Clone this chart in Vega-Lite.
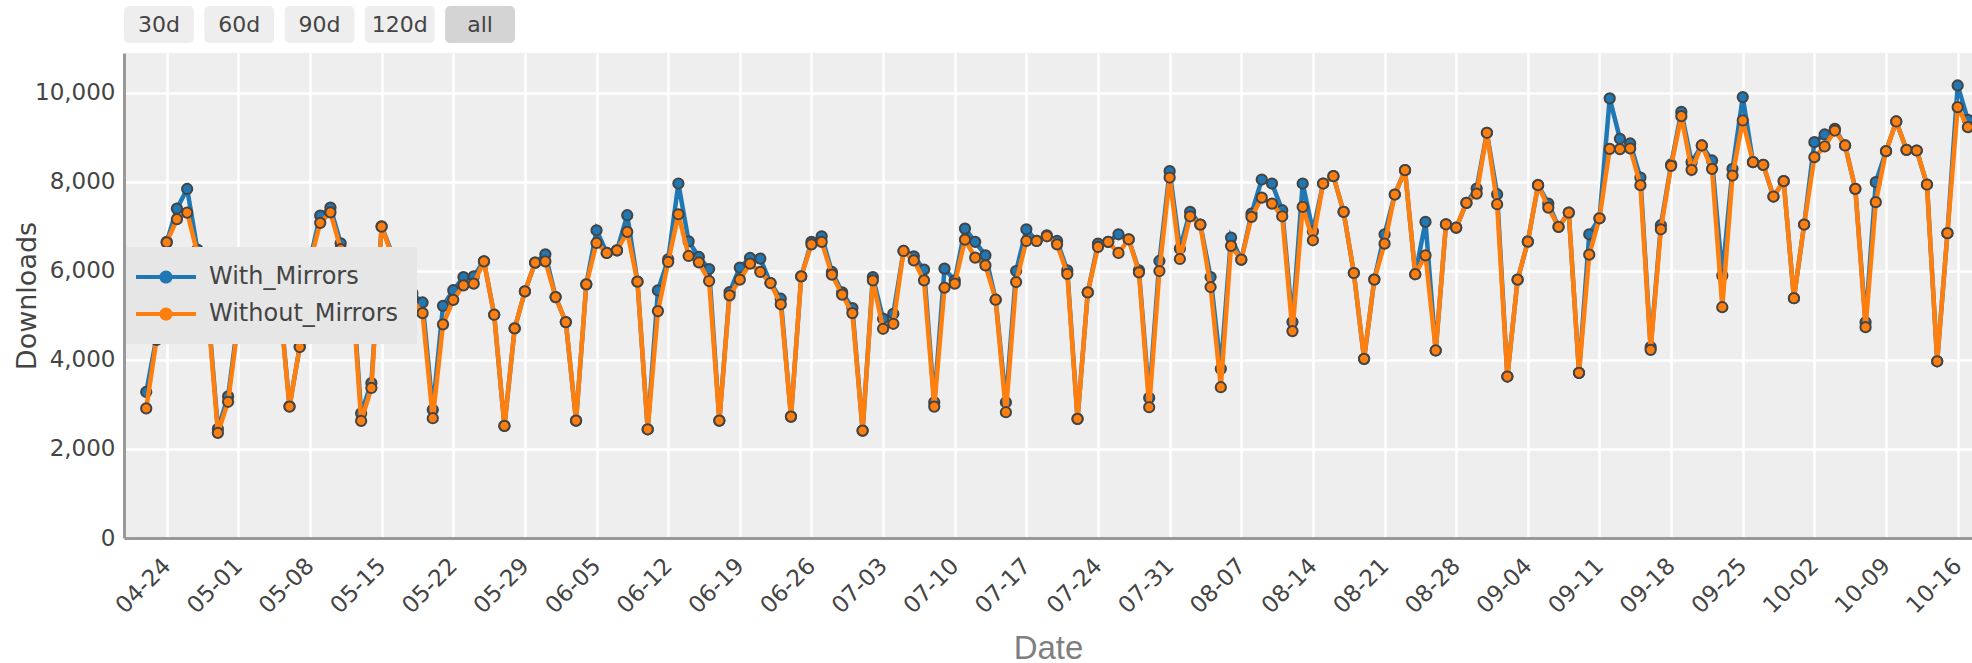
{
"$schema": "https://vega.github.io/schema/vega-lite/v6.json",
"padding": {"left": 13, "top": 6, "right": 0, "bottom": 0},
"autosize": {"type": "pad"},
"background": "white",
"bounds": "flush",
"spacing": 10,
"config": {"view": {"stroke": null}, "font": "DejaVu Sans"},
"vconcat": [
{
"width": 391, "height": 37,
"data": {"values": [{"label": "30d"}, {"label": "60d"}, {"label": "90d"}, {"label": "120d"}, {"label": "all"}]},
"encoding": {"x": {"field": "label", "type": "nominal", "sort": null, "axis": null, "scale": {"paddingInner": 0.13, "paddingOuter": 0}}},
"layer": [
{"mark": {"type": "rect", "cornerRadius": 5}, "encoding": {"color": {"condition": {"test": "datum.label === 'all'", "value": "#d4d4d4"}, "value": "#eeeeee"}}},
{"mark": {"type": "text", "font": "DejaVu Sans", "fontSize": 22, "color": "#444", "baseline": "middle"}, "encoding": {"text": {"field": "label"}}}
]
},
{
"width": 1848, "height": 485,
"view": {"fill": "#eeeeee", "stroke": null},
"data": {"values": [
{"date":"2018-04-22","With_Mirrors":3280,"Without_Mirrors":2910},
{"date":"2018-04-23","With_Mirrors":4500,"Without_Mirrors":4450},
{"date":"2018-04-24","With_Mirrors":6650,"Without_Mirrors":6640},
{"date":"2018-04-25","With_Mirrors":7400,"Without_Mirrors":7160},
{"date":"2018-04-26","With_Mirrors":7840,"Without_Mirrors":7310},
{"date":"2018-04-27","With_Mirrors":6480,"Without_Mirrors":6390},
{"date":"2018-04-28","With_Mirrors":5250,"Without_Mirrors":5180},
{"date":"2018-04-29","With_Mirrors":2450,"Without_Mirrors":2360},
{"date":"2018-04-30","With_Mirrors":3180,"Without_Mirrors":3060},
{"date":"2018-05-01","With_Mirrors":4950,"Without_Mirrors":4850},
{"date":"2018-05-02","With_Mirrors":6150,"Without_Mirrors":6050},
{"date":"2018-05-03","With_Mirrors":6350,"Without_Mirrors":6250},
{"date":"2018-05-04","With_Mirrors":6100,"Without_Mirrors":6000},
{"date":"2018-05-05","With_Mirrors":5450,"Without_Mirrors":5380},
{"date":"2018-05-06","With_Mirrors":2960,"Without_Mirrors":2950},
{"date":"2018-05-07","With_Mirrors":4300,"Without_Mirrors":4290},
{"date":"2018-05-08","With_Mirrors":6250,"Without_Mirrors":6180},
{"date":"2018-05-09","With_Mirrors":7240,"Without_Mirrors":7080},
{"date":"2018-05-10","With_Mirrors":7420,"Without_Mirrors":7315},
{"date":"2018-05-11","With_Mirrors":6620,"Without_Mirrors":6490},
{"date":"2018-05-12","With_Mirrors":6100,"Without_Mirrors":6000},
{"date":"2018-05-13","With_Mirrors":2800,"Without_Mirrors":2630},
{"date":"2018-05-14","With_Mirrors":3480,"Without_Mirrors":3370},
{"date":"2018-05-15","With_Mirrors":7000,"Without_Mirrors":6995},
{"date":"2018-05-16","With_Mirrors":6400,"Without_Mirrors":6350},
{"date":"2018-05-17","With_Mirrors":6050,"Without_Mirrors":5950},
{"date":"2018-05-18","With_Mirrors":5500,"Without_Mirrors":5350},
{"date":"2018-05-19","With_Mirrors":5290,"Without_Mirrors":5050},
{"date":"2018-05-20","With_Mirrors":2880,"Without_Mirrors":2690},
{"date":"2018-05-21","With_Mirrors":5215,"Without_Mirrors":4800},
{"date":"2018-05-22","With_Mirrors":5565,"Without_Mirrors":5350},
{"date":"2018-05-23","With_Mirrors":5860,"Without_Mirrors":5675},
{"date":"2018-05-24","With_Mirrors":5877,"Without_Mirrors":5712},
{"date":"2018-05-25","With_Mirrors":6215,"Without_Mirrors":6215},
{"date":"2018-05-26","With_Mirrors":5015,"Without_Mirrors":5015},
{"date":"2018-05-27","With_Mirrors":2517,"Without_Mirrors":2517},
{"date":"2018-05-28","With_Mirrors":4707,"Without_Mirrors":4707},
{"date":"2018-05-29","With_Mirrors":5540,"Without_Mirrors":5540},
{"date":"2018-05-30","With_Mirrors":6185,"Without_Mirrors":6185},
{"date":"2018-05-31","With_Mirrors":6372,"Without_Mirrors":6215},
{"date":"2018-06-01","With_Mirrors":5412,"Without_Mirrors":5412},
{"date":"2018-06-02","With_Mirrors":4850,"Without_Mirrors":4850},
{"date":"2018-06-03","With_Mirrors":2637,"Without_Mirrors":2637},
{"date":"2018-06-04","With_Mirrors":5697,"Without_Mirrors":5697},
{"date":"2018-06-05","With_Mirrors":6912,"Without_Mirrors":6627},
{"date":"2018-06-06","With_Mirrors":6402,"Without_Mirrors":6402},
{"date":"2018-06-07","With_Mirrors":6462,"Without_Mirrors":6462},
{"date":"2018-06-08","With_Mirrors":7250,"Without_Mirrors":6875},
{"date":"2018-06-09","With_Mirrors":5757,"Without_Mirrors":5757},
{"date":"2018-06-10","With_Mirrors":2442,"Without_Mirrors":2442},
{"date":"2018-06-11","With_Mirrors":5562,"Without_Mirrors":5097},
{"date":"2018-06-12","With_Mirrors":6260,"Without_Mirrors":6200},
{"date":"2018-06-13","With_Mirrors":7962,"Without_Mirrors":7272},
{"date":"2018-06-14","With_Mirrors":6665,"Without_Mirrors":6335},
{"date":"2018-06-15","With_Mirrors":6312,"Without_Mirrors":6192},
{"date":"2018-06-16","With_Mirrors":6042,"Without_Mirrors":5772},
{"date":"2018-06-17","With_Mirrors":2637,"Without_Mirrors":2637},
{"date":"2018-06-18","With_Mirrors":5525,"Without_Mirrors":5450},
{"date":"2018-06-19","With_Mirrors":6072,"Without_Mirrors":5802},
{"date":"2018-06-20","With_Mirrors":6290,"Without_Mirrors":6162},
{"date":"2018-06-21","With_Mirrors":6275,"Without_Mirrors":5975},
{"date":"2018-06-22","With_Mirrors":5727,"Without_Mirrors":5727},
{"date":"2018-06-23","With_Mirrors":5375,"Without_Mirrors":5250},
{"date":"2018-06-24","With_Mirrors":2727,"Without_Mirrors":2727},
{"date":"2018-06-25","With_Mirrors":5877,"Without_Mirrors":5877},
{"date":"2018-06-26","With_Mirrors":6650,"Without_Mirrors":6597},
{"date":"2018-06-27","With_Mirrors":6777,"Without_Mirrors":6650},
{"date":"2018-06-28","With_Mirrors":5975,"Without_Mirrors":5915},
{"date":"2018-06-29","With_Mirrors":5517,"Without_Mirrors":5465},
{"date":"2018-06-30","With_Mirrors":5165,"Without_Mirrors":5052},
{"date":"2018-07-01","With_Mirrors":2412,"Without_Mirrors":2412},
{"date":"2018-07-02","With_Mirrors":5862,"Without_Mirrors":5787},
{"date":"2018-07-03","With_Mirrors":4925,"Without_Mirrors":4700},
{"date":"2018-07-04","With_Mirrors":5037,"Without_Mirrors":4812},
{"date":"2018-07-05","With_Mirrors":6447,"Without_Mirrors":6447},
{"date":"2018-07-06","With_Mirrors":6327,"Without_Mirrors":6237},
{"date":"2018-07-07","With_Mirrors":6027,"Without_Mirrors":5787},
{"date":"2018-07-08","With_Mirrors":3050,"Without_Mirrors":2952},
{"date":"2018-07-09","With_Mirrors":6050,"Without_Mirrors":5622},
{"date":"2018-07-10","With_Mirrors":5787,"Without_Mirrors":5712},
{"date":"2018-07-11","With_Mirrors":6950,"Without_Mirrors":6702},
{"date":"2018-07-12","With_Mirrors":6650,"Without_Mirrors":6297},
{"date":"2018-07-13","With_Mirrors":6350,"Without_Mirrors":6125},
{"date":"2018-07-14","With_Mirrors":5352,"Without_Mirrors":5352},
{"date":"2018-07-15","With_Mirrors":3050,"Without_Mirrors":2825},
{"date":"2018-07-16","With_Mirrors":5997,"Without_Mirrors":5750},
{"date":"2018-07-17","With_Mirrors":6935,"Without_Mirrors":6672},
{"date":"2018-07-18","With_Mirrors":6672,"Without_Mirrors":6672},
{"date":"2018-07-19","With_Mirrors":6800,"Without_Mirrors":6777},
{"date":"2018-07-20","With_Mirrors":6672,"Without_Mirrors":6597},
{"date":"2018-07-21","With_Mirrors":6010,"Without_Mirrors":5930},
{"date":"2018-07-22","With_Mirrors":2675,"Without_Mirrors":2675},
{"date":"2018-07-23","With_Mirrors":5517,"Without_Mirrors":5517},
{"date":"2018-07-24","With_Mirrors":6612,"Without_Mirrors":6537},
{"date":"2018-07-25","With_Mirrors":6650,"Without_Mirrors":6650},
{"date":"2018-07-26","With_Mirrors":6822,"Without_Mirrors":6402},
{"date":"2018-07-27","With_Mirrors":6710,"Without_Mirrors":6710},
{"date":"2018-07-28","With_Mirrors":6012,"Without_Mirrors":5967},
{"date":"2018-07-29","With_Mirrors":3147,"Without_Mirrors":2937},
{"date":"2018-07-30","With_Mirrors":6222,"Without_Mirrors":5997},
{"date":"2018-07-31","With_Mirrors":8240,"Without_Mirrors":8097},
{"date":"2018-08-01","With_Mirrors":6500,"Without_Mirrors":6267},
{"date":"2018-08-02","With_Mirrors":7325,"Without_Mirrors":7227},
{"date":"2018-08-03","With_Mirrors":7040,"Without_Mirrors":7040},
{"date":"2018-08-04","With_Mirrors":5862,"Without_Mirrors":5637},
{"date":"2018-08-05","With_Mirrors":3800,"Without_Mirrors":3387},
{"date":"2018-08-06","With_Mirrors":6747,"Without_Mirrors":6560},
{"date":"2018-08-07","With_Mirrors":6252,"Without_Mirrors":6252},
{"date":"2018-08-08","With_Mirrors":7287,"Without_Mirrors":7212},
{"date":"2018-08-09","With_Mirrors":8052,"Without_Mirrors":7647},
{"date":"2018-08-10","With_Mirrors":7962,"Without_Mirrors":7512},
{"date":"2018-08-11","With_Mirrors":7362,"Without_Mirrors":7227},
{"date":"2018-08-12","With_Mirrors":4850,"Without_Mirrors":4647},
{"date":"2018-08-13","With_Mirrors":7962,"Without_Mirrors":7437},
{"date":"2018-08-14","With_Mirrors":6890,"Without_Mirrors":6687},
{"date":"2018-08-15","With_Mirrors":7962,"Without_Mirrors":7962},
{"date":"2018-08-16","With_Mirrors":8127,"Without_Mirrors":8127},
{"date":"2018-08-17","With_Mirrors":7325,"Without_Mirrors":7325},
{"date":"2018-08-18","With_Mirrors":5952,"Without_Mirrors":5952},
{"date":"2018-08-19","With_Mirrors":4025,"Without_Mirrors":4025},
{"date":"2018-08-20","With_Mirrors":5810,"Without_Mirrors":5805},
{"date":"2018-08-21","With_Mirrors":6822,"Without_Mirrors":6612},
{"date":"2018-08-22","With_Mirrors":7715,"Without_Mirrors":7715},
{"date":"2018-08-23","With_Mirrors":8262,"Without_Mirrors":8262},
{"date":"2018-08-24","With_Mirrors":5925,"Without_Mirrors":5925},
{"date":"2018-08-25","With_Mirrors":7100,"Without_Mirrors":6350},
{"date":"2018-08-26","With_Mirrors":4212,"Without_Mirrors":4212},
{"date":"2018-08-27","With_Mirrors":7047,"Without_Mirrors":7047},
{"date":"2018-08-28","With_Mirrors":6972,"Without_Mirrors":6972},
{"date":"2018-08-29","With_Mirrors":7527,"Without_Mirrors":7527},
{"date":"2018-08-30","With_Mirrors":7850,"Without_Mirrors":7737},
{"date":"2018-08-31","With_Mirrors":9102,"Without_Mirrors":9102},
{"date":"2018-09-01","With_Mirrors":7722,"Without_Mirrors":7497},
{"date":"2018-09-02","With_Mirrors":3627,"Without_Mirrors":3627},
{"date":"2018-09-03","With_Mirrors":5802,"Without_Mirrors":5802},
{"date":"2018-09-04","With_Mirrors":6657,"Without_Mirrors":6657},
{"date":"2018-09-05","With_Mirrors":7925,"Without_Mirrors":7925},
{"date":"2018-09-06","With_Mirrors":7512,"Without_Mirrors":7422},
{"date":"2018-09-07","With_Mirrors":6987,"Without_Mirrors":6987},
{"date":"2018-09-08","With_Mirrors":7310,"Without_Mirrors":7310},
{"date":"2018-09-09","With_Mirrors":3710,"Without_Mirrors":3710},
{"date":"2018-09-10","With_Mirrors":6822,"Without_Mirrors":6365},
{"date":"2018-09-11","With_Mirrors":7182,"Without_Mirrors":7182},
{"date":"2018-09-12","With_Mirrors":9875,"Without_Mirrors":8742},
{"date":"2018-09-13","With_Mirrors":8967,"Without_Mirrors":8735},
{"date":"2018-09-14","With_Mirrors":8862,"Without_Mirrors":8750},
{"date":"2018-09-15","With_Mirrors":8097,"Without_Mirrors":7925},
{"date":"2018-09-16","With_Mirrors":4287,"Without_Mirrors":4227},
{"date":"2018-09-17","With_Mirrors":7025,"Without_Mirrors":6935},
{"date":"2018-09-18","With_Mirrors":8390,"Without_Mirrors":8360},
{"date":"2018-09-19","With_Mirrors":9570,"Without_Mirrors":9475},
{"date":"2018-09-20","With_Mirrors":8442,"Without_Mirrors":8270},
{"date":"2018-09-21","With_Mirrors":8817,"Without_Mirrors":8817},
{"date":"2018-09-22","With_Mirrors":8480,"Without_Mirrors":8292},
{"date":"2018-09-23","With_Mirrors":5895,"Without_Mirrors":5184},
{"date":"2018-09-24","With_Mirrors":8292,"Without_Mirrors":8142},
{"date":"2018-09-25","With_Mirrors":9903,"Without_Mirrors":9378},
{"date":"2018-09-26","With_Mirrors":8442,"Without_Mirrors":8442},
{"date":"2018-09-27","With_Mirrors":8382,"Without_Mirrors":8382},
{"date":"2018-09-28","With_Mirrors":7670,"Without_Mirrors":7670},
{"date":"2018-09-29","With_Mirrors":8015,"Without_Mirrors":8015},
{"date":"2018-09-30","With_Mirrors":5386,"Without_Mirrors":5386},
{"date":"2018-10-01","With_Mirrors":7041,"Without_Mirrors":7041},
{"date":"2018-10-02","With_Mirrors":8891,"Without_Mirrors":8554},
{"date":"2018-10-03","With_Mirrors":9064,"Without_Mirrors":8794},
{"date":"2018-10-04","With_Mirrors":9191,"Without_Mirrors":9153},
{"date":"2018-10-05","With_Mirrors":8817,"Without_Mirrors":8817},
{"date":"2018-10-06","With_Mirrors":7843,"Without_Mirrors":7843},
{"date":"2018-10-07","With_Mirrors":4847,"Without_Mirrors":4735},
{"date":"2018-10-08","With_Mirrors":7993,"Without_Mirrors":7543},
{"date":"2018-10-09","With_Mirrors":8689,"Without_Mirrors":8689},
{"date":"2018-10-10","With_Mirrors":9356,"Without_Mirrors":9356},
{"date":"2018-10-11","With_Mirrors":8719,"Without_Mirrors":8719},
{"date":"2018-10-12","With_Mirrors":8704,"Without_Mirrors":8704},
{"date":"2018-10-13","With_Mirrors":7940,"Without_Mirrors":7940},
{"date":"2018-10-14","With_Mirrors":3970,"Without_Mirrors":3970},
{"date":"2018-10-15","With_Mirrors":6847,"Without_Mirrors":6847},
{"date":"2018-10-16","With_Mirrors":10165,"Without_Mirrors":9678},
{"date":"2018-10-17","With_Mirrors":9393,"Without_Mirrors":9229}
]},
"transform": [{"fold": ["With_Mirrors", "Without_Mirrors"], "as": ["series", "downloads"]}],
"encoding": {
"x": {"field": "date", "type": "temporal", "title": "Date",
 "scale": {"type": "utc", "domain": [{"year": 2018, "month": 4, "date": 19, "hours": 19, "minutes": 52, "utc": true}, {"year": 2018, "month": 10, "date": 17, "hours": 9, "minutes": 36, "utc": true}]},
 "axis": {"values": [
 {"year":2018,"month":4,"date":24,"utc":true},{"year":2018,"month":5,"date":1,"utc":true},{"year":2018,"month":5,"date":8,"utc":true},{"year":2018,"month":5,"date":15,"utc":true},{"year":2018,"month":5,"date":22,"utc":true},{"year":2018,"month":5,"date":29,"utc":true},{"year":2018,"month":6,"date":5,"utc":true},{"year":2018,"month":6,"date":12,"utc":true},{"year":2018,"month":6,"date":19,"utc":true},{"year":2018,"month":6,"date":26,"utc":true},{"year":2018,"month":7,"date":3,"utc":true},{"year":2018,"month":7,"date":10,"utc":true},{"year":2018,"month":7,"date":17,"utc":true},{"year":2018,"month":7,"date":24,"utc":true},{"year":2018,"month":7,"date":31,"utc":true},{"year":2018,"month":8,"date":7,"utc":true},{"year":2018,"month":8,"date":14,"utc":true},{"year":2018,"month":8,"date":21,"utc":true},{"year":2018,"month":8,"date":28,"utc":true},{"year":2018,"month":9,"date":4,"utc":true},{"year":2018,"month":9,"date":11,"utc":true},{"year":2018,"month":9,"date":18,"utc":true},{"year":2018,"month":9,"date":25,"utc":true},{"year":2018,"month":10,"date":2,"utc":true},{"year":2018,"month":10,"date":9,"utc":true},{"year":2018,"month":10,"date":16,"utc":true}],
 "format": "%m-%d", "labelAngle": -45, "labelAlign": "right", "labelBaseline": "middle", "labelPadding": 24,
 "labelFont": "DejaVu Sans", "labelFontSize": 23, "labelColor": "#444", "labelOverlap": false, "labelFlush": false, "labelBound": false,
 "ticks": false, "tickSize": 0, "grid": true, "gridColor": "white", "gridWidth": 2.5, "domainColor": "#999", "domainWidth": 3,
 "titleFont": "Liberation Sans", "titleFontSize": 33, "titleFontWeight": "normal", "titleColor": "#7f7f7f", "titlePadding": 15}},
"y": {"field": "downloads", "type": "quantitative", "title": "Downloads",
 "scale": {"domain": [0, 10894], "nice": false},
 "axis": {"values": [0, 2000, 4000, 6000, 8000, 10000], "format": ",.0f", "labelFont": "DejaVu Sans", "labelFontSize": 23, "labelColor": "#444", "labelPadding": 9,
 "ticks": false, "tickSize": 0, "grid": true, "gridColor": "white", "gridWidth": 2.5, "domainColor": "#999", "domainWidth": 3,
 "titleFont": "DejaVu Sans", "titleFontSize": 27, "titleFontWeight": "normal", "titleColor": "#444", "titleBaseline": "alphabetic", "titlePadding": -1}},
"color": {"field": "series", "type": "nominal",
 "scale": {"domain": ["With_Mirrors", "Without_Mirrors"], "range": ["#1f77b4", "#ff7f0e"]},
 "legend": {"orient": "none", "legendX": 2, "legendY": 241, "title": null, "fillColor": "#e6e6e6", "padding": 18,
  "symbolOffset": 10, "labelOffset": 31, "rowPadding": 13, "labelFont": "DejaVu Sans", "labelFontSize": 24, "labelColor": "#444", "labelBaseline": "middle", "labelLimit": 0,
  "symbolType": "M -2.5 -0.17 H 2.5 V 0.17 H -2.5 Z M 0.55 0 A 0.55 0.55 0 1 1 -0.55 0 A 0.55 0.55 0 1 1 0.55 0 Z",
  "symbolSize": 576, "symbolStrokeWidth": 0,
  "encode": {"symbols": {"update": {"fill": {"scale": "color", "field": "value"}, "stroke": {"value": "transparent"}, "opacity": {"value": 1}}}}}}
},
"layer": [
{"transform": [{"filter": "datum.series === 'With_Mirrors'"}], "mark": {"type": "line", "strokeWidth": 4.5}},
{"transform": [{"filter": "datum.series === 'With_Mirrors'"}], "mark": {"type": "point", "shape": "circle", "filled": true, "size": 105, "stroke": "#444", "strokeWidth": 2, "opacity": 1}},
{"transform": [{"filter": "datum.series === 'Without_Mirrors'"}], "mark": {"type": "line", "strokeWidth": 4.5}},
{"transform": [{"filter": "datum.series === 'Without_Mirrors'"}], "mark": {"type": "point", "shape": "circle", "filled": true, "size": 105, "stroke": "#444", "strokeWidth": 2, "opacity": 1}}
]
}
]
}
